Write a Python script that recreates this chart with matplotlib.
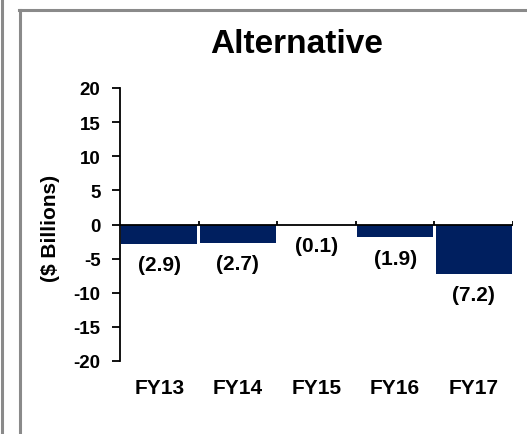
import matplotlib.pyplot as plt
from matplotlib.lines import Line2D

plt.rcParams['font.family'] = ['Liberation Sans', 'DejaVu Sans']
plt.rcParams['font.weight'] = 'bold'

# fiscal years and net flows
years = ['FY13', 'FY14', 'FY15', 'FY16', 'FY17']
flows = [-2.9, -2.7, -0.1, -1.9, -7.2]
yticks = [-20, -15, -10, -5, 0, 5, 10, 15, 20]

W, H = 527, 435
fig = plt.figure(figsize=(W / 100, H / 100), dpi=100)
ax = fig.add_axes([120 / W, 1 - 362 / H, 393 / W, 273 / H])

xs = range(len(years))
ax.bar(xs, flows, width=0.97, color='#001f5f', zorder=2)
ax.axhline(0, color='black', lw=1.3, zorder=3)
# small divider ticks between the categories on the zero line
ax.vlines([i + 0.5 for i in xs], 0, 0.45, color='black', lw=1.3, zorder=3)

for i, v in enumerate(flows):
    ax.annotate('({:.1f})'.format(abs(v)), (i, v), xytext=(0, -8),
                textcoords='offset points', ha='center', va='top',
                fontsize=15, fontweight='bold')

ax.set_xlim(-0.5, 4.5)
ax.set_ylim(-20, 20)
ax.set_yticks(yticks)
ax.set_yticklabels([str(t) for t in yticks], fontsize=13.5, fontweight='bold')
ax.set_xticks(list(xs))
ax.set_xticklabels(years, fontsize=15, fontweight='bold')
ax.tick_params(axis='x', length=0, pad=12)
ax.tick_params(axis='y', length=6, width=1.3, pad=8)
for s in ['top', 'right', 'bottom']:
    ax.spines[s].set_visible(False)
ax.spines['left'].set_linewidth(1.3)

fig.text(296.5 / W, 1 - 53 / H, 'Alternative', ha='center', va='baseline',
         fontsize=24, fontweight='bold')
fig.text(50 / W, 1 - 228 / H, '($ Billions)', rotation=90, ha='center',
         va='center', fontsize=15, fontweight='bold')

# panel borders
gray = '#8a8a8a'
fig.add_artist(Line2D([1.5 / W, 1.5 / W], [0, 1], color=gray, lw=2.2))
fig.add_artist(Line2D([19.5 / W, 19.5 / W], [0, 1 - 10.5 / H], color=gray, lw=2.2))
fig.add_artist(Line2D([18.5 / W, 1], [1 - 10.8 / H, 1 - 10.8 / H], color=gray, lw=2.2))

fig.savefig('out.png', dpi=100)
